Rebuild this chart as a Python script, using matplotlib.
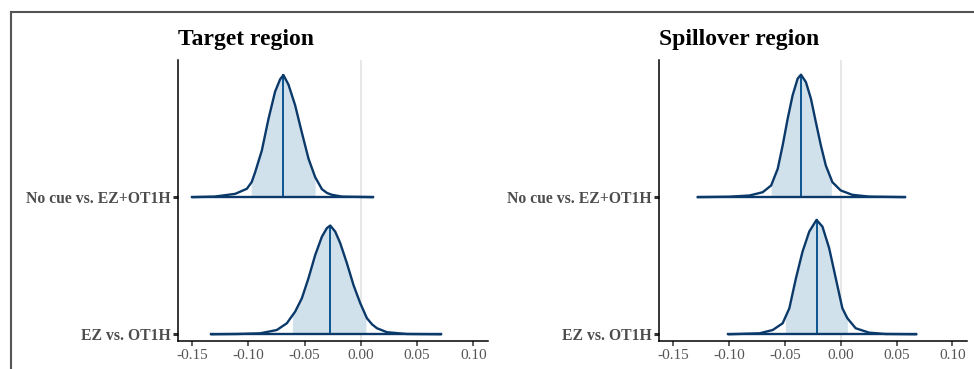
import matplotlib
matplotlib.use('Agg')
import matplotlib.pyplot as plt
from matplotlib.lines import Line2D
import numpy as np

## données
panels = ['Target region', 'Spillover region']
rows = ['EZ vs. OT1H', 'No cue vs. EZ+OT1H']   # de bas en haut

# densités (hauteur en fraction de l'écart entre lignes)
# panneau "Target" - No cue vs. EZ+OT1H
t_nocue_x = [-0.150, -0.130, -0.1117, -0.1013, -0.0970, -0.0940, -0.0880, -0.0821, -0.0762, -0.0717,
             -0.0688, -0.0643, -0.0584, -0.0524, -0.0465, -0.0406, -0.0346, -0.0300, -0.0257, -0.0168, 0.0108]
t_nocue_h = [0.0, 0.004, 0.024, 0.061, 0.11, 0.18, 0.34, 0.57, 0.77, 0.86,
             0.89, 0.82, 0.67, 0.47, 0.28, 0.146, 0.058, 0.030, 0.017, 0.004, 0.0]
# panneau "Target" - EZ vs. OT1H
t_ez_x = [-0.1331, -0.110, -0.0895, -0.0747, -0.0658, -0.0584, -0.0524, -0.0465, -0.0406, -0.0346, -0.0302,
          -0.0272, -0.0228, -0.0183, -0.0124, -0.0065, -0.0005, 0.0054, 0.0100, 0.0143, 0.0232, 0.0410, 0.0713]
t_ez_h = [0.0, 0.002, 0.007, 0.031, 0.080, 0.165, 0.263, 0.41, 0.577, 0.712, 0.774,
          0.793, 0.749, 0.664, 0.518, 0.358, 0.226, 0.117, 0.072, 0.044, 0.015, 0.002, 0.0]
# panneau "Spillover" - No cue vs. EZ+OT1H
s_nocue_x = [-0.128, -0.100, -0.0815, -0.0697, -0.0622, -0.0563, -0.0519, -0.0474, -0.0430, -0.0385,
             -0.0355, -0.0311, -0.0266, -0.0222, -0.0177, -0.0133, -0.0074, 0.0000, 0.0104, 0.0253, 0.0576]
s_nocue_h = [0.0, 0.003, 0.012, 0.036, 0.085, 0.207, 0.377, 0.572, 0.742, 0.864,
             0.893, 0.839, 0.718, 0.547, 0.377, 0.231, 0.109, 0.049, 0.017, 0.004, 0.0]
# panneau "Spillover" - EZ vs. OT1H
s_ez_x = [-0.1004, -0.0726, -0.0608, -0.0519, -0.0459, -0.0400, -0.0341, -0.0281, -0.0216,
          -0.0163, -0.0103, -0.0044, 0.0015, 0.0060, 0.0134, 0.0253, 0.0401, 0.0677]
s_ez_h = [0.0, 0.007, 0.031, 0.080, 0.190, 0.409, 0.603, 0.749, 0.834,
          0.785, 0.628, 0.409, 0.190, 0.117, 0.044, 0.012, 0.002, 0.0]

# médianes et intervalles ombrés
t_median = [-0.0272, -0.0688]
t_interval = [(-0.0608, 0.0045), (-0.0975, -0.0406)]
s_median = [-0.0216, -0.0355]
s_interval = [(-0.0495, 0.0060), (-0.0622, -0.0083)]

xticks = [-0.15, -0.10, -0.05, 0.00, 0.05, 0.10]

dens = [[(t_ez_x, t_ez_h), (t_nocue_x, t_nocue_h)],
        [(s_ez_x, s_ez_h), (s_nocue_x, s_nocue_h)]]
medians = [t_median, s_median]
intervals = [t_interval, s_interval]

C_LINE = '#0b3a6a'
C_MED = '#0a5590'
C_FILL = '#d1e1ec'

plt.rcParams['font.family'] = ['Liberation Serif', 'DejaVu Serif']

fig = plt.figure(figsize=(9.74, 3.69), dpi=100)

# cadre gris de la figure (haut et gauche)
fig.add_artist(Line2D([11/974, 11/974], [0, 1 - 12/369], transform=fig.transFigure, color='#555555', lw=1.5))
fig.add_artist(Line2D([11/974, 1], [1 - 12/369, 1 - 12/369], transform=fig.transFigure, color='#555555', lw=1.5))

positions = [[178/974, 0.0759, (488-178)/974, 0.8374-0.0759],
             [659/974, 0.0759, (967-659)/974, 0.8374-0.0759]]

for p in range(2):
    ax = fig.add_axes(positions[p])
    ax.axvline(0, color='#e3e3e3', lw=1.2, zorder=0)
    for r in range(2):
        xs, hs = dens[p][r]
        lo, hi = intervals[p][r]
        # zone ombrée : on coupe la densité à l'intervalle
        fx = [lo] + [x for x in xs if lo < x < hi] + [hi]
        fh = np.interp(fx, xs, hs)
        ax.fill_between(fx, r + fh, r, color=C_FILL, lw=0, zorder=1)
        ax.plot(xs, [r + h for h in hs], color=C_LINE, lw=1.7, zorder=3,
                solid_joinstyle='round', solid_capstyle='round')
        ax.plot([xs[0], xs[-1]], [r, r], color=C_LINE, lw=1.7, zorder=3)
        m = medians[p][r]
        mh = float(np.interp(m, xs, hs))
        ax.plot([m, m], [r, r + mh], color=C_MED, lw=1.4, zorder=2)

    ax.set_xlim(-0.1625, 0.113)
    ax.set_ylim(-0.049, 2.0)
    ax.set_xticks(xticks)
    ax.set_xticklabels(['%.2f' % t for t in xticks], fontsize=11, color='#555555')
    ax.set_yticks([0, 1])
    ax.set_yticklabels(rows, fontsize=11.3, fontweight='bold', color='#4d4d4d')
    for s in ['top', 'right']:
        ax.spines[s].set_visible(False)
    for s in ['left', 'bottom']:
        ax.spines[s].set_linewidth(1.1)
        ax.spines[s].set_color('black')
    ax.tick_params(axis='both', length=3.5, width=1.1, color='#333333', pad=2)
    ax.tick_params(axis='y', width=2.2)
    ax.set_title(panels[p], loc='left', fontsize=17, fontweight='bold', pad=10.5)

fig.savefig('out.png', dpi=100)
